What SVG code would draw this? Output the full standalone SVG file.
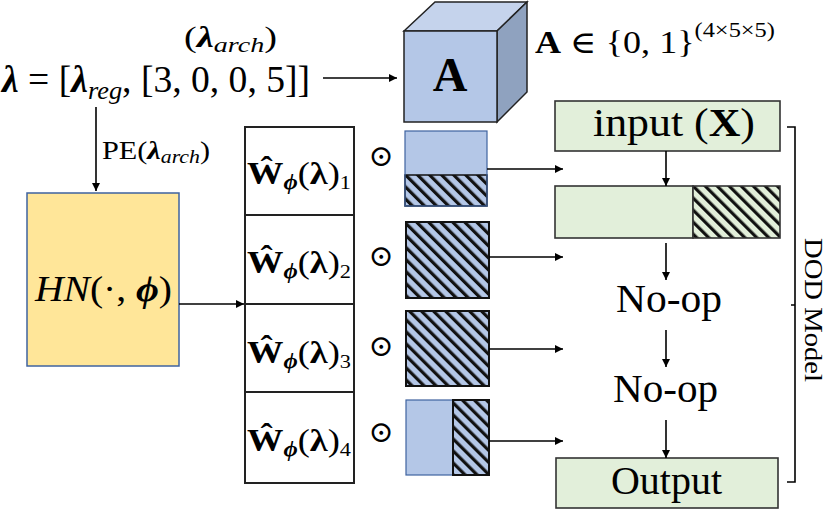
<svg xmlns="http://www.w3.org/2000/svg" width="830" height="512" viewBox="0 0 830 512">
<style>
text{font-family:"Liberation Serif","DejaVu Serif",serif;fill:#000}
.b{font-weight:bold}
.i{font-style:italic}
.line{stroke:#000;stroke-width:1.6;fill:none}
.box{stroke:#222;stroke-width:2}
</style>
<defs>
<marker id="ah" viewBox="0 0 10 10" refX="10" refY="5" markerWidth="8" markerHeight="8" markerUnits="userSpaceOnUse" orient="auto"><path d="M0,0L10,5L0,10z" fill="#000"/></marker>
<pattern id="hb" patternUnits="userSpaceOnUse" width="8.5" height="8.5" patternTransform="rotate(-45)"><rect width="8.5" height="8.5" fill="#B4C7E7"/><rect width="3.2" height="8.5" fill="#111"/></pattern>
<pattern id="hg" patternUnits="userSpaceOnUse" width="8.5" height="8.5" patternTransform="rotate(-45)"><rect width="8.5" height="8.5" fill="#E2EFDA"/><rect width="3.2" height="8.5" fill="#111"/></pattern>
</defs>

<g id="lambda">
<text x="184" y="47" font-size="30" textLength="93" lengthAdjust="spacingAndGlyphs">(<tspan class="b i">λ</tspan><tspan class="i" font-size="22" dy="5">arch</tspan><tspan dy="-5">)</tspan></text>
<text x="2" y="92" font-size="37" textLength="308" lengthAdjust="spacingAndGlyphs"><tspan class="b i">λ</tspan> = [<tspan class="b i">λ</tspan><tspan class="i" font-size="26" dy="7">reg</tspan><tspan dy="-7">, [3, 0, 0, 5]]</tspan></text>
</g>

<g id="cube">
<polygon points="404,31 435,2 527,2 497,31" fill="#C5D3EC" stroke="#222" stroke-width="1.5"/>
<polygon points="497,31 527,2 527,92 497,122" fill="#8FA2BF" stroke="#222" stroke-width="1.5"/>
<rect x="404" y="31" width="93" height="91" fill="#B4C7E7" stroke="#222" stroke-width="1.5"/>
<text x="450" y="91" font-size="48" class="b" text-anchor="middle">A</text>
</g>
<text x="535" y="53" font-size="31" textLength="240" lengthAdjust="spacingAndGlyphs"><tspan class="b">A</tspan> ∈ {0, 1}<tspan font-size="21" dy="-16">(4×5×5)</tspan></text>

<g id="hn">
<rect x="27" y="193" width="152" height="173" fill="#FFE699" stroke="#3F63A0" stroke-width="1.5"/>
<text x="35" y="301" font-size="35" textLength="137" lengthAdjust="spacingAndGlyphs"><tspan class="i">HN</tspan>(·, <tspan class="b i">ϕ</tspan>)</text>
</g>

<g id="wcol">
<rect x="245" y="127" width="109" height="356" fill="#fff" class="box"/>
<line x1="245" y1="215" x2="354" y2="215" class="box"/>
<line x1="245" y1="304" x2="354" y2="304" class="box"/>
<line x1="245" y1="392" x2="354" y2="392" class="box"/>
<text x="247" y="184" font-size="31" textLength="104" lengthAdjust="spacingAndGlyphs"><tspan class="b">Ŵ</tspan><tspan class="b i" font-size="21" dy="5">ϕ</tspan><tspan dy="-5">(</tspan><tspan class="b">λ</tspan>)<tspan font-size="19" dy="5">1</tspan></text>
<text x="247" y="273" font-size="31" textLength="104" lengthAdjust="spacingAndGlyphs"><tspan class="b">Ŵ</tspan><tspan class="b i" font-size="21" dy="5">ϕ</tspan><tspan dy="-5">(</tspan><tspan class="b">λ</tspan>)<tspan font-size="19" dy="5">2</tspan></text>
<text x="247" y="363" font-size="31" textLength="104" lengthAdjust="spacingAndGlyphs"><tspan class="b">Ŵ</tspan><tspan class="b i" font-size="21" dy="5">ϕ</tspan><tspan dy="-5">(</tspan><tspan class="b">λ</tspan>)<tspan font-size="19" dy="5">3</tspan></text>
<text x="247" y="451" font-size="31" textLength="104" lengthAdjust="spacingAndGlyphs"><tspan class="b">Ŵ</tspan><tspan class="b i" font-size="21" dy="5">ϕ</tspan><tspan dy="-5">(</tspan><tspan class="b">λ</tspan>)<tspan font-size="19" dy="5">4</tspan></text>
</g>

<g id="odot" font-size="30">
<text x="381" y="166" text-anchor="middle">⊙</text>
<text x="381" y="266" text-anchor="middle">⊙</text>
<text x="381" y="356" text-anchor="middle">⊙</text>
<text x="381" y="442" text-anchor="middle">⊙</text>
</g>

<g id="mask1">
<rect x="405" y="131" width="82" height="44" fill="#B4C7E7"/>
<rect x="405" y="175" width="82" height="31" fill="url(#hb)" stroke="#111" stroke-width="1.5"/>
<rect x="405" y="131" width="82" height="75" fill="none" stroke="#3F63A0" stroke-width="1.2"/>
</g>
<g id="mask2"><rect x="406" y="222" width="83" height="76" fill="url(#hb)" stroke="#111" stroke-width="2"/></g>
<g id="mask3"><rect x="406" y="311" width="83" height="75" fill="url(#hb)" stroke="#111" stroke-width="2"/></g>
<g id="mask4">
<rect x="406" y="400" width="47" height="75" fill="#B4C7E7" stroke="#3F63A0" stroke-width="1.2"/>
<rect x="453" y="400" width="36" height="75" fill="url(#hb)" stroke="#111" stroke-width="2"/>
</g>

<g id="input">
<rect x="555" y="101" width="225" height="50" fill="#E2EFDA" stroke="#333" stroke-width="1.6"/>
<text x="593" y="136" font-size="40" textLength="162" lengthAdjust="spacingAndGlyphs">input (<tspan class="b">X</tspan>)</text>
</g>
<g id="layer1">
<rect x="555" y="186" width="138" height="52" fill="#E2EFDA" stroke="#333" stroke-width="1.6"/>
<rect x="693" y="186" width="87" height="52" fill="url(#hg)" stroke="#333" stroke-width="1.6"/>
</g>
<g id="noop1"><text x="616" y="312" font-size="40" textLength="106" lengthAdjust="spacingAndGlyphs">No-op</text></g>
<g id="noop2"><text x="613" y="402" font-size="40" textLength="105" lengthAdjust="spacingAndGlyphs">No-op</text></g>
<g id="output">
<rect x="556" y="458" width="222" height="50" fill="#E2EFDA" stroke="#333" stroke-width="1.6"/>
<text x="611" y="494" font-size="40" textLength="111" lengthAdjust="spacingAndGlyphs">Output</text>
</g>

<g id="bracket">
<path d="M787,127 H795 V482 H787 M795,305 H791" class="line" stroke-width="1.4"/>
<text transform="translate(805,238) rotate(90)" font-size="26" textLength="144" lengthAdjust="spacingAndGlyphs">DOD Model</text>
</g>

<g id="connectors">
<line x1="323" y1="78" x2="397" y2="78" class="line" marker-end="url(#ah)"/>
<line x1="96" y1="107" x2="96" y2="191" class="line" marker-end="url(#ah)"/>
<text x="102" y="159" font-size="25" textLength="108" lengthAdjust="spacingAndGlyphs">PE(<tspan class="b i">λ</tspan><tspan class="i" font-size="18" dy="4">arch</tspan><tspan dy="-4">)</tspan></text>
<line x1="179" y1="304" x2="244" y2="304" class="line" marker-end="url(#ah)"/>
<line x1="487" y1="169" x2="563" y2="169" class="line" marker-end="url(#ah)"/>
<line x1="489" y1="257" x2="563" y2="257" class="line" marker-end="url(#ah)"/>
<line x1="489" y1="349" x2="563" y2="349" class="line" marker-end="url(#ah)"/>
<line x1="489" y1="441" x2="563" y2="441" class="line" marker-end="url(#ah)"/>
<line x1="666" y1="151" x2="666" y2="186" class="line" marker-end="url(#ah)"/>
<line x1="666" y1="243" x2="666" y2="280" class="line" marker-end="url(#ah)"/>
<line x1="666" y1="330" x2="666" y2="367" class="line" marker-end="url(#ah)"/>
<line x1="666" y1="420" x2="666" y2="458" class="line" marker-end="url(#ah)"/>
</g>
</svg>
